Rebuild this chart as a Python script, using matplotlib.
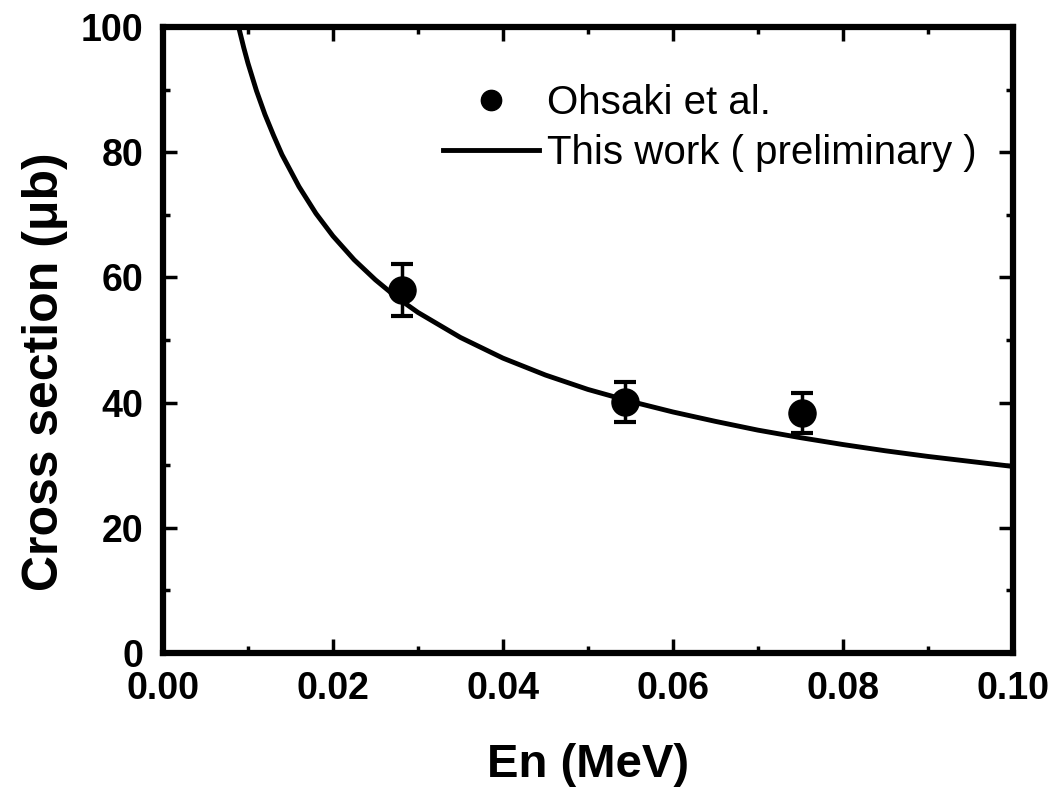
import numpy as np
import matplotlib.pyplot as plt
from matplotlib import font_manager
from matplotlib.ticker import MultipleLocator

plt.rcParams['font.family'] = ['Liberation Sans', 'DejaVu Sans']
names = {f.name for f in font_manager.fontManager.ttflist}
narrow = 'Liberation Sans Narrow' in names

# 測定点 (Ohsaki et al.)
en_exp = [0.0281, 0.0544, 0.0752]
xs_exp = [58.0, 40.1, 38.3]
err_exp = [4.2, 3.2, 3.2]

# 計算曲線 (This work)
en_calc = [0.0089, 0.0095, 0.010, 0.011, 0.012, 0.013, 0.014, 0.016, 0.018,
           0.020, 0.0225, 0.025, 0.0275, 0.030, 0.035, 0.040, 0.045, 0.050,
           0.055, 0.060, 0.065, 0.070, 0.075, 0.080, 0.085, 0.090, 0.095, 0.100]
xs_calc = [100.0, 96.7, 94.2, 89.8, 86.0, 82.7, 79.6, 74.5, 70.2,
           66.6, 62.8, 59.6, 56.8, 54.4, 50.4, 47.1, 44.4, 42.1,
           40.2, 38.5, 37.0, 35.6, 34.4, 33.3, 32.3, 31.4, 30.6, 29.8]

fig = plt.figure(figsize=(10.55, 7.92), dpi=100)
ax = fig.add_axes([0.1545, 0.1755, 0.8055, 0.7905])

line, = ax.plot(en_calc, xs_calc, color='black', lw=3.5)
eb = ax.errorbar(en_exp, xs_exp, yerr=err_exp, fmt='o', color='black', ms=19.5,
                 elinewidth=2.5, capsize=8, capthick=3)

ax.set_xlim(0, 0.1)
ax.set_ylim(0, 100)
ax.xaxis.set_major_locator(MultipleLocator(0.02))
ax.xaxis.set_minor_locator(MultipleLocator(0.01))
ax.yaxis.set_major_locator(MultipleLocator(20))
ax.yaxis.set_minor_locator(MultipleLocator(10))
ax.xaxis.set_major_formatter(lambda v, p: f"{v:.2f}")

for s in ax.spines.values():
    s.set_linewidth(4.5)
ax.tick_params(which='both', direction='in', top=True, right=True, width=2.5)
ax.tick_params(which='major', length=10)
ax.tick_params(axis='x', which='major', pad=13)
ax.tick_params(axis='y', which='major', pad=14)
ax.tick_params(which='minor', length=5)
# 目盛ラベル（太字）
for lab in ax.get_xticklabels() + ax.get_yticklabels():
    lab.set_fontweight('bold')
    if narrow:
        lab.set_family(['Liberation Sans Narrow', 'Liberation Sans'])
        lab.set_fontsize(30)
    else:
        lab.set_fontsize(27)

ax.set_xlabel('En (MeV)', fontsize=34, fontweight='bold', labelpad=26)
ax.set_ylabel('Cross section (μb)', fontsize=36, fontweight='bold')
ax.yaxis.set_label_coords(-0.112, 0.449)

# 凡例
ax.legend([eb[0], line], ['Ohsaki et al.', 'This work ( preliminary )'],
          loc='upper left', bbox_to_anchor=(0.31, 0.934), markerscale=0.75,
          frameon=False, fontsize=29, handlelength=2.4, handletextpad=0.2,
          labelspacing=0.28, borderaxespad=0)

plt.savefig('out.png', dpi=100)
